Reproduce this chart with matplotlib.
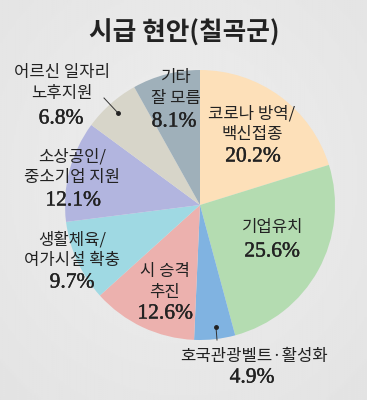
import numpy as np
from matplotlib import pyplot as plt
from matplotlib import patheffects as pe

plt.rcParams['font.family'] = ['Noto Sans CJK KR', 'DejaVu Sans']

title = '시급 현안(칠곡군)'
labels = ['코로나 방역/\n백신접종', '기업유치', '호국관광벨트·활성화', '시 승격\n추진',
          '생활체육/\n여가시설 확충', '소상공인/\n중소기업 지원', '어르신 일자리\n노후지원', '기타\n잘 모름']
values = [20.2, 25.6, 4.9, 12.6, 9.7, 12.1, 6.8, 8.1]
colors = ['#fde0b9', '#b4dcb1', '#80b3e1', '#ecb1ae', '#9fd9e3', '#b2b5df', '#d7d5c9', '#9fb0ba']

W, H = 367, 400
fig = plt.figure(figsize=(W / 100, H / 100), dpi=100)

# background gradient
bg = fig.add_axes([0, 0, 1, 1])
yy, xx = np.mgrid[0:1:200j, 0:1:200j]
r = np.sqrt((xx - 0.5) ** 2 + (yy - 0.45) ** 2)
bg.imshow(0.935 - 0.06 * r, cmap='gray', vmin=0, vmax=1, extent=[0, 1, 0, 1], aspect='auto')
bg.axis('off')

fig.text(184 / W, 1 - 33 / H, title, ha='center', va='center', fontsize=18.5,
         fontweight='bold', color='#222222')

# pie
cx, cy, rad = 200, 205, 135
ax = fig.add_axes([(cx - rad) / W, (H - cy - rad) / H, 2 * rad / W, 2 * rad / H])
ax.pie(values, colors=colors, startangle=90, counterclock=False, radius=1)
ax.set_xlim(-1, 1)
ax.set_ylim(-1, 1)
ax.set_aspect('equal')
ax.axis('off')

def px(x, y):
    return x / W, 1 - y / H

# label positions (pixel centres of name block / percent)
name_pos = [(252, 124), (273, 228), (254, 357), (165, 282), (72, 250), (72, 167), (62, 83), (176, 88)]
pct_pos = [(253, 157), (272, 252), (252, 378), (165, 314), (72, 283), (73, 201), (61, 119), (174, 122)]

for lab, v, (nx, ny), (qx, qy) in zip(labels, values, name_pos, pct_pos):
    fig.text(*px(nx, ny), lab, ha='center', va='center', fontsize=12, color='#222222',
             linespacing=1.3)
    fig.text(*px(qx, qy), f'{v}%', ha='center', va='center', fontsize=15.5,
             family=['Liberation Serif', 'DejaVu Serif'], color='#222222',
             path_effects=[pe.withStroke(linewidth=0.3, foreground='#222222')])

# leader lines
for (x0, y0), (x1, y1) in [((216, 327), (217, 340)), ((118, 113), (104, 98))]:
    fig.add_artist(plt.Line2D([x0 / W, x1 / W], [1 - y0 / H, 1 - y1 / H], color='#333333', lw=0.7))
    fig.add_artist(plt.Line2D([x0 / W], [1 - y0 / H], marker='o', ms=2.5, color='#222222'))

plt.savefig('out.png', dpi=100)
